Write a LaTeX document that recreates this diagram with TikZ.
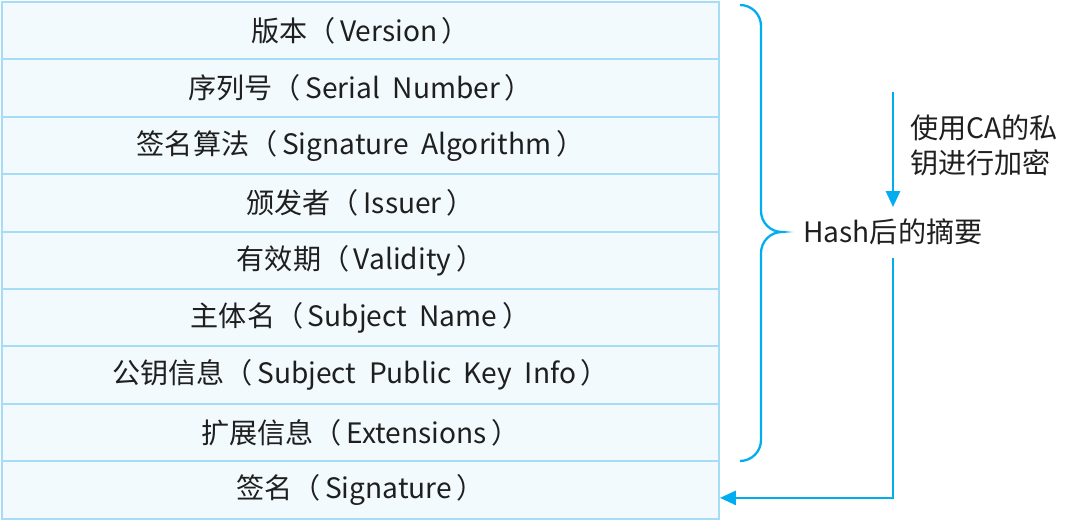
\documentclass[tikz,border=0pt]{standalone}
\usepackage{fontspec}
\newfontfamily\cjk{Noto Sans CJK SC}
\usetikzlibrary{arrows.meta}
\definecolor{cellline}{RGB}{166,220,245}
\definecolor{cellfill}{RGB}{242,250,254}
\definecolor{flowblue}{RGB}{0,174,239}
\tikzset{
  txt/.style={font=\cjk\fontsize{16}{20}\selectfont, text=black!88},
  field/.style={txt, draw=cellline, fill=cellfill, line width=1.1pt,
    minimum width=14.34cm, minimum height=1.148cm, inner sep=0pt},
  flow/.style={draw=flowblue, line width=1.3pt},
  flowarrow/.style={flow, -{Triangle[length=9pt,width=8pt]}}
}
\begin{document}
\begin{tikzpicture}
    \useasboundingbox (0,0) rectangle (21.6,-10.52);
    % certificate fields
    \foreach \name [count=\i] in {版本（\,Version\,）, 序列号（\,Serial\ \ Number\,）,
        签名算法（\,Signature\ \ Algorithm\,）, 颁发者（\,Issuer\,）, 有效期（\,Validity\,）,
        主体名（\,Subject\ \ Name\,）, 公钥信息（\,Subject\ \ Public\ \ Key\ \ Info\,）,
        扩展信息（\,Extensions\,）, 签名（\,Signature\,）}
        \node[field] (r\i) at (7.21,{-0.04-1.148*(\i-0.5)}) {\name};
    % brace over the signed part
    \draw[flow] (14.80,-0.10) arc[start angle=90,end angle=0,radius=0.42]
        -- (15.22,-4.22) arc[start angle=180,end angle=270,radius=0.42]
        arc[start angle=90,end angle=180,radius=0.42]
        -- (15.22,-8.80) arc[start angle=0,end angle=-90,radius=0.42];
    \node[txt, anchor=west, inner sep=0pt] (hash) at (16.06,-4.64) {Hash后的摘要};
    \node[txt, anchor=west, align=left, inner sep=0pt] (enclabel) at (18.2,-2.91)
        {使用CA的私\\钥进行加密};
    \coordinate (encA) at (17.86,-1.84);
    \coordinate (encB) at (17.86,-4.14);
    \coordinate (sigA) at (17.86,-5.16);
    \draw[flowarrow] (encA) -- (encB);
    \draw[flowarrow] (sigA) |- ([yshift=-0.16cm]r9.east);
\end{tikzpicture}
\end{document}
